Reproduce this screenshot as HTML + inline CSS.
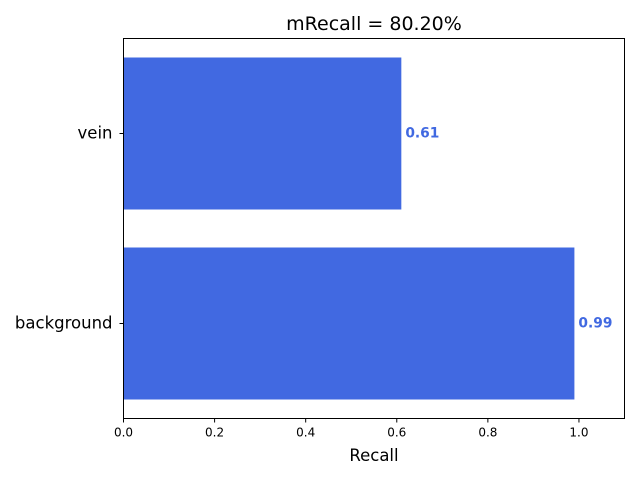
<!DOCTYPE html>
<html><head><meta charset="utf-8"><style>
body{margin:0;background:#fff;}
svg{display:block;font-family:"DejaVu Sans","Liberation Sans",sans-serif;}
</style></head><body>
<svg id="chart" width="640" height="480">
<rect width="640" height="480" fill="#fff"/>
<text x="374" y="30" text-anchor="middle" font-size="19">mRecall = 80.20%</text>
<g id="bars"></g>
<g id="xticks"></g>
<g id="yticks"></g>
<rect x="123.5" y="38.5" width="501" height="380" fill="none" stroke="#000" stroke-width="1"/>
<text x="374" y="461" text-anchor="middle" font-size="16.5">Recall</text>
</svg>
<script>
const categories = ["background", "vein"];
const values = [0.99, 0.61];
const labels = ["0.99", "0.61"];
const xTicks = [0, 0.2, 0.4, 0.6, 0.8, 1.0];
const xTickLabels = ["0.0", "0.2", "0.4", "0.6", "0.8", "1.0"];

const NS = "http://www.w3.org/2000/svg";
const L = 123.5, R = 624.5, T = 38.5, B = 418.5;
const xMax = 1.1;
const x = v => L + v / xMax * (R - L);
const y = i => B - (i + 0.5) / categories.length * (B - T);
const bandH = (B - T) / categories.length * 0.8;
function mk(tag, attrs, parent) {
  const e = document.createElementNS(NS, tag);
  for (const k in attrs) e.setAttribute(k, attrs[k]);
  parent.appendChild(e);
  return e;
}
const gb = document.getElementById("bars");
const gx = document.getElementById("xticks");
const gy = document.getElementById("yticks");
categories.forEach((c, i) => {
  const r = mk("rect", {x: x(0), y: y(i) - bandH / 2, width: x(values[i]) - x(0), height: bandH, fill: "#4169e1"}, gb);
  
  
  const t = mk("text", {x: x(values[i]) + 4, y: y(i) + 4, "font-size": "13.8", "font-weight": "bold", fill: "#4169e1"}, gb);
  t.textContent = labels[i];
  
  
  const tk = mk("line", {x1: L - 4, x2: L, y1: y(i), y2: y(i), stroke: "#000"}, gy);
  
  
  const tl = mk("text", {x: L - 11, y: y(i) + 5, "text-anchor": "end", "font-size": "16.5"}, gy);
  tl.textContent = c;
  
  
});
xTicks.forEach((v, i) => {
  const tk = mk("line", {x1: x(v), x2: x(v), y1: B, y2: B + 4, stroke: "#000"}, gx);
  
  
  const tl = mk("text", {x: x(v), y: B + 18, "text-anchor": "middle", "font-size": "12"}, gx);
  tl.textContent = xTickLabels[i];
  
  
});
</script>
</body></html>
